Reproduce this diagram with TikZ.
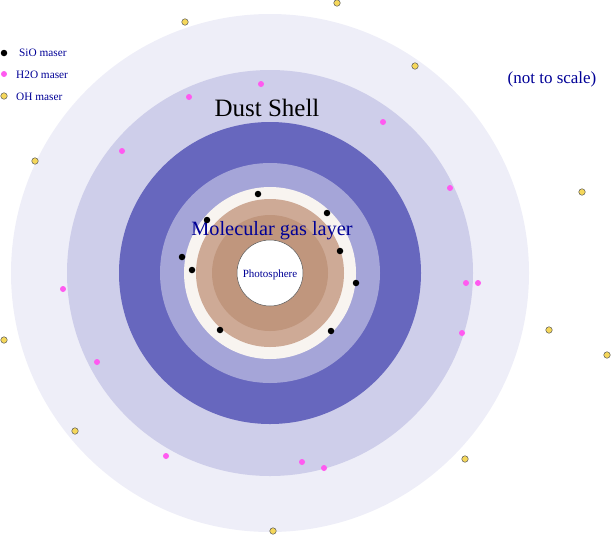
\documentclass[tikz,border=0pt]{standalone}
\usepackage{fontspec}
\setmainfont{Liberation Serif}
\newfontfamily\tms{Liberation Serif}
\definecolor{c1}{RGB}{238,238,248}
\definecolor{c2}{RGB}{206,206,234}
\definecolor{c3}{RGB}{103,103,190}
\definecolor{c4}{RGB}{165,165,216}
\definecolor{c5}{RGB}{248,244,240}
\definecolor{c6}{RGB}{206,170,150}
\definecolor{c7}{RGB}{192,150,125}
\definecolor{tb}{RGB}{0,0,150}
\definecolor{mag}{RGB}{255,90,240}
\definecolor{yel}{RGB}{245,215,90}
\begin{document}
\begin{tikzpicture}[x=1pt,y=-1pt,
 sio/.style={circle,fill=black,inner sep=0pt,minimum size=6.5pt},
 hto/.style={circle,fill=mag,inner sep=0pt,minimum size=6pt},
 oh/.style={circle,fill=yel,draw=gray!70!black,line width=0.5pt,inner sep=0pt,minimum size=6.5pt},
 lbl/.style={text=tb,font=\tms\fontsize{11.3}{12}\selectfont,anchor=west,inner sep=0pt}]
\useasboundingbox (0,0) rectangle (612,536);
\coordinate (c) at (270,273);
\fill[c1] (c) circle (259);
\fill[c2] (c) circle (203);
\fill[c3] (c) circle (151);
\fill[c4] (c) circle (110);
\fill[c5] (c) circle (86);
\fill[c6] (c) circle (74);
\fill[c7] (c) circle (58);
\node[circle,fill=white,draw=gray!70!black,line width=0.5pt,minimum size=66pt,inner sep=0pt] (ph) at (c) {};
\node[text=tb,font=\tms\fontsize{11}{12}\selectfont] (pht) at (270,275) {Photosphere};
\node[font=\tms\fontsize{25}{28}\selectfont] (ds) at (267,108) {Dust Shell};
\node[text=tb,font=\tms\fontsize{20.3}{22}\selectfont] (mg) at (272,231) {Molecular gas layer};
\node[text=tb,font=\tms\fontsize{17}{19}\selectfont] (ns) at (552,79) {(not to scale)};
\foreach \p [count=\i] in {(258,194),(327,213),(207,220),(340,251),(182,257),(192,270),(356,283),(220,330),(331,331)}
  \node[sio] (s\i) at \p {};
\foreach \p [count=\i] in {(261,84),(189,97),(383,122),(122,151),(450,188),(466,283),(478,283),(63,289),(462,333),(97,362),(166,456),(302,462),(324,468)}
  \node[hto] (h\i) at \p {};
\foreach \p [count=\i] in {(337,3),(185,22),(415,66),(35,161),(582,192),(549,330),(4,340),(607,355),(75,431),(465,459),(273,531)}
  \node[oh] (o\i) at \p {};
\node[sio] (ls) at (4,53) {};
\node[hto] (lh) at (4,74) {};
\node[oh] (lo) at (4,96) {};
\node[lbl] (lst) at (19,53) {SiO maser};
\node[lbl] (lht) at (16,75) {H2O maser};
\node[lbl] (lot) at (16,97) {OH maser};
\end{tikzpicture}
\end{document}
